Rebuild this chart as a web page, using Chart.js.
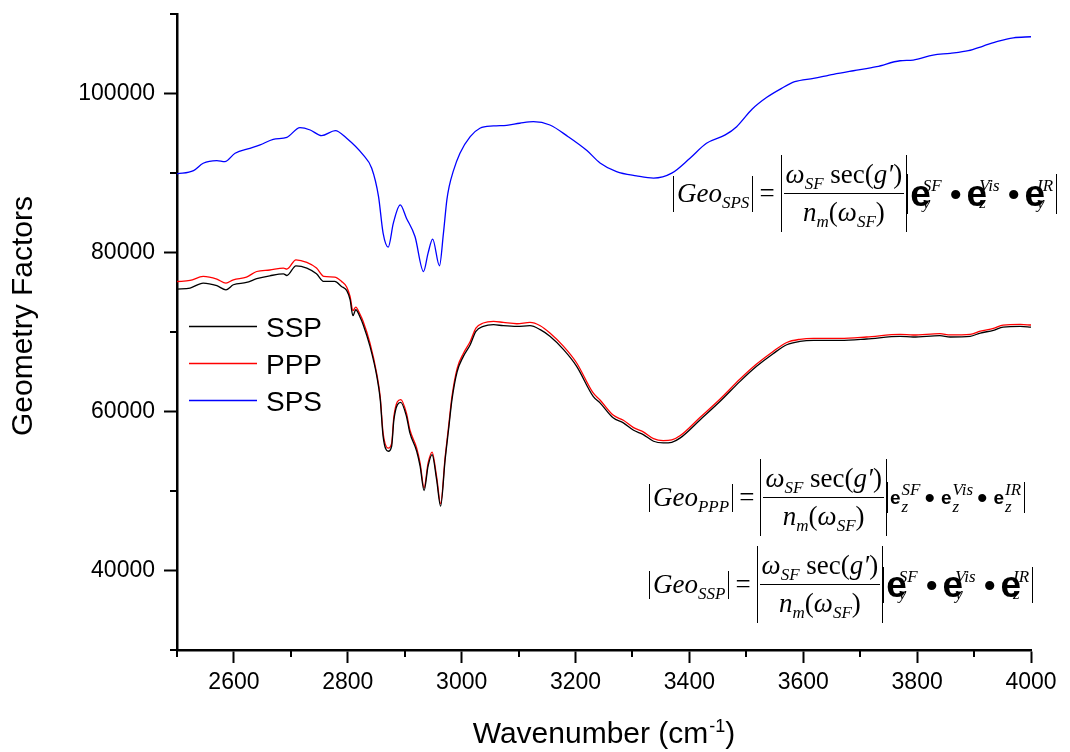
<!DOCTYPE html>
<html>
<head>
<meta charset="utf-8">
<script src="https://cdn.jsdelivr.net/npm/chart.js@4.4.1/dist/chart.umd.min.js"></script>
<style>
  html, body { margin: 0; padding: 0; background: #fff; }
  #wrap { position: relative; width: 1070px; height: 752px; overflow: hidden; }
  #c { position: absolute; left: 0; top: 0; }
  .eq { position: absolute; display: flex; align-items: center; font-family: "Liberation Serif", "Times New Roman", serif; font-size: 27px; line-height: 1; white-space: nowrap; color: #000; }
  .bars { display: inline-flex; align-items: center; justify-content: center; box-sizing: border-box; border-left: 1.4px solid #000; border-right: 1.4px solid #000; }
  .sm { height: 36px; padding: 0 3px; }
  .sm.short { height: 28px; }
  .bg { height: 77px; padding: 0 2px; }
  .eqs { margin: 0 6px; }
  .frac { display: flex; flex-direction: column; align-items: center; }
  .num { border-bottom: 1.4px solid #000; padding: 0 2px 5px; }
  .den { padding-top: 5px; }
  sub { font-size: 17px; vertical-align: -6px; line-height: 0; font-style: italic; }
  .vec { padding: 0 3px 0 2px; }
  .v { display: inline-flex; align-items: center; }
  .v b { font-family: "Liberation Sans", Arial, sans-serif; font-weight: bold; }
  .s { display: inline-flex; flex-direction: column; font-size: 17px; line-height: 1; font-style: italic; }
  .dot { font-family: "Liberation Sans", Arial, sans-serif; font-size: 34px; }
  .vbig .v b { font-size: 37px; }
  .vbig .s { margin-left: -8px; }
  .vbig .dot { margin: 0 5px 0 8px; }
  .vsmall .v b { font-size: 19px; }
  .vsmall .s { margin-left: 1px; }
  .vsmall .dot { font-size: 30px; margin: 0 6px 0 4px; }
</style>
</head>
<body>
<div id="wrap">
  <canvas id="c" width="1070" height="752"></canvas>

  <div class="eq" style="left:673px; top:155px;">
    <span class="bars sm"><span><i>Geo</i><sub>SPS</sub></span></span>
    <span class="eqs">=</span>
    <span class="bars bg"><span class="frac"><span class="num"><i>ω</i><sub>SF</sub> sec(<i>g′</i>)</span><span class="den"><i>n</i><sub>m</sub>(<i>ω</i><sub>SF</sub>)</span></span></span>
    <span class="bars sm vec vbig" style="height:40px;">
      <span class="v"><b>e</b><span class="s"><span>SF</span><span>y</span></span></span>
      <span class="dot">•</span>
      <span class="v"><b>e</b><span class="s"><span>Vis</span><span>z</span></span></span>
      <span class="dot">•</span>
      <span class="v"><b>e</b><span class="s"><span>IR</span><span>y</span></span></span>
    </span>
  </div>

  <div class="eq" style="left:649px; top:459px;">
    <span class="bars sm short"><span><i>Geo</i><sub>PPP</sub></span></span>
    <span class="eqs">=</span>
    <span class="bars bg"><span class="frac"><span class="num"><i>ω</i><sub>SF</sub> sec(<i>g′</i>)</span><span class="den"><i>n</i><sub>m</sub>(<i>ω</i><sub>SF</sub>)</span></span></span>
    <span class="bars sm vec vsmall" style="height:31px;">
      <span class="v"><b>e</b><span class="s"><span>SF</span><span>z</span></span></span>
      <span class="dot">•</span>
      <span class="v"><b>e</b><span class="s"><span>Vis</span><span>z</span></span></span>
      <span class="dot">•</span>
      <span class="v"><b>e</b><span class="s"><span>IR</span><span>z</span></span></span>
    </span>
  </div>

  <div class="eq" style="left:649px; top:546px;">
    <span class="bars sm short"><span><i>Geo</i><sub>SSP</sub></span></span>
    <span class="eqs">=</span>
    <span class="bars bg"><span class="frac"><span class="num"><i>ω</i><sub>SF</sub> sec(<i>g′</i>)</span><span class="den"><i>n</i><sub>m</sub>(<i>ω</i><sub>SF</sub>)</span></span></span>
    <span class="bars sm vec vbig" style="height:36px;">
      <span class="v"><b>e</b><span class="s"><span>SF</span><span>y</span></span></span>
      <span class="dot">•</span>
      <span class="v"><b>e</b><span class="s"><span>Vis</span><span>y</span></span></span>
      <span class="dot">•</span>
      <span class="v"><b>e</b><span class="s"><span>IR</span><span>z</span></span></span>
    </span>
  </div>
</div>

<script>
// Geometry factors vs. wavenumber for the three polarization combinations
const sspWavenumber = [2500, 2523, 2546, 2570, 2586, 2599, 2622, 2640, 2663, 2687, 2693, 2709, 2728, 2745, 2758, 2777, 2789, 2798, 2804, 2809, 2814, 2821, 2827, 2839, 2851, 2857, 2862, 2871, 2877, 2881, 2893, 2903, 2909, 2921, 2927, 2934, 2941, 2948, 2956, 2963, 2971, 2977, 2983, 2992, 3003, 3015, 3025, 3038, 3056, 3073, 3097, 3120, 3138, 3155, 3179, 3202, 3231, 3243, 3266, 3284, 3302, 3319, 3337, 3354, 3369, 3384, 3419, 3454, 3489, 3518, 3547, 3571, 3594, 3618, 3665, 3711, 3770, 3793, 3840, 3858, 3893, 3911, 3934, 3951, 3981, 4000];
const sspValues = [75400, 75530, 76150, 75820, 75310, 75940, 76230, 76700, 77070, 77320, 77110, 78330, 78040, 77320, 76360, 76360, 75730, 75230, 74060, 72050, 72800, 71960, 70920, 68190, 64420, 61500, 56880, 55000, 55630, 58980, 61150, 59400, 57310, 55000, 53120, 50060, 53120, 54580, 51440, 48090, 53960, 57730, 61500, 65000, 66930, 68400, 70080, 70700, 70920, 70790, 70700, 70790, 70290, 69450, 67780, 65680, 61910, 61080, 59200, 58570, 57640, 57100, 56260, 56050, 56130, 56680, 58970, 61280, 63790, 65680, 67270, 68400, 68820, 68950, 68950, 69120, 69450, 69370, 69540, 69370, 69450, 69870, 70200, 70620, 70700, 70620];

const pppWavenumber = sspWavenumber;
const pppValues = [76350, 76480, 76990, 76660, 76150, 76570, 76900, 77610, 77800, 78040, 77920, 79080, 78750, 78040, 76990, 76910, 76360, 75660, 74470, 72680, 73140, 72300, 71330, 68610, 64700, 61800, 57300, 55400, 56000, 59400, 61500, 59800, 57700, 55400, 53500, 50400, 53500, 54900, 51800, 48400, 54300, 58100, 61900, 65400, 67300, 68800, 70500, 71130, 71330, 71210, 71040, 71210, 70790, 69870, 68190, 66100, 62330, 61450, 59550, 58900, 57970, 57430, 56580, 56340, 56420, 56970, 59280, 61580, 64080, 65960, 67550, 68680, 69080, 69200, 69200, 69370, 69700, 69620, 69800, 69630, 69700, 70120, 70450, 70870, 70950, 70880];

const spsWavenumber = [2500, 2529, 2546, 2570, 2584, 2602, 2628, 2646, 2669, 2693, 2716, 2734, 2754, 2778, 2798, 2827, 2842, 2854, 2862, 2871, 2880, 2892, 2903, 2918, 2933, 2941, 2949, 2961, 2968, 2974, 2978, 2985, 2997, 3015, 3032, 3056, 3079, 3102, 3126, 3155, 3187, 3220, 3243, 3272, 3307, 3337, 3369, 3401, 3430, 3463, 3483, 3510, 3536, 3562, 3585, 3618, 3653, 3688, 3729, 3770, 3793, 3828, 3858, 3890, 3916, 3943, 3969, 4000];
const spsValues = [89890, 90300, 91230, 91560, 91430, 92490, 93110, 93530, 94240, 94490, 95700, 95410, 94700, 95330, 94370, 92270, 90600, 87040, 82440, 80680, 83690, 85990, 84320, 82010, 77610, 79920, 81680, 78330, 82440, 86620, 88290, 90180, 92490, 94570, 95630, 95920, 96000, 96260, 96460, 96040, 94570, 92820, 91270, 90180, 89640, 89350, 89980, 91860, 93740, 94790, 95830, 98020, 99520, 100650, 101480, 101910, 102410, 102860, 103370, 104120, 104210, 104840, 105050, 105380, 105970, 106600, 107010, 107140];

const seriesLabels = ['SSP', 'PPP', 'SPS'];
const seriesColors = ['#000000', '#ff0000', '#0000ff'];

const xMajorTicks = [2600, 2800, 3000, 3200, 3400, 3600, 3800, 4000];
const xMinorTicks = [2500, 2700, 2900, 3100, 3300, 3500, 3700, 3900];
const yMajorTicks = [40000, 60000, 80000, 100000];
const yMinorTicks = [30000, 50000, 70000, 90000, 110000];

const xTitle = { main: 'Wavenumber (cm', sup: '-1', tail: ')' };
const yTitle = 'Geometry Factors';

const SANS = '"Liberation Sans", Arial, sans-serif';

function pairs(xs, ys) { return xs.map((x, i) => ({ x: x, y: ys[i] })); }

function noEdgePadding(s) {
  s.paddingTop = 0; s.paddingBottom = 0; s.paddingLeft = 0; s.paddingRight = 0;
}

const minorTickPlugin = {
  id: 'minorTicks',
  afterDraw(chart) {
    const { ctx, chartArea: a } = chart;
    const xs = chart.scales.x, ys = chart.scales.y;
    ctx.save();
    ctx.strokeStyle = '#000';
    ctx.lineWidth = 2;
    ctx.beginPath();
    xMinorTicks.forEach(v => {
      const px = Math.round(xs.getPixelForValue(v));
      ctx.moveTo(px, a.bottom);
      ctx.lineTo(px, a.bottom + 7);
    });
    yMinorTicks.forEach(v => {
      const py = Math.round(ys.getPixelForValue(v));
      ctx.moveTo(a.left, py);
      ctx.lineTo(a.left - 7, py);
    });
    ctx.stroke();
    ctx.restore();
  }
};

const axisTitlePlugin = {
  id: 'axisTitles',
  afterDraw(chart) {
    const { ctx, chartArea: a } = chart;
    ctx.save();
    ctx.fillStyle = '#000';
    // y title, rotated
    ctx.font = '30px ' + SANS;
    ctx.textAlign = 'center';
    ctx.textBaseline = 'alphabetic';
    ctx.translate(32, 316);
    ctx.rotate(-Math.PI / 2);
    ctx.fillText(yTitle, 0, 0);
    ctx.setTransform(1, 0, 0, 1, 0, 0);
    // x title with superscript
    ctx.textAlign = 'left';
    ctx.font = '30px ' + SANS;
    const w1 = ctx.measureText(xTitle.main).width;
    const w3 = ctx.measureText(xTitle.tail).width;
    ctx.font = '18px ' + SANS;
    const w2 = ctx.measureText(xTitle.sup).width;
    const cx = (a.left + a.right) / 2;
    const x0 = cx - (w1 + w2 + w3 + 1) / 2;
    const base = 743;
    ctx.font = '30px ' + SANS;
    ctx.fillText(xTitle.main, x0, base);
    ctx.font = '18px ' + SANS;
    ctx.fillText(xTitle.sup, x0 + w1 + 1, base - 11);
    ctx.font = '30px ' + SANS;
    ctx.fillText(xTitle.tail, x0 + w1 + w2 + 1, base);
    ctx.restore();
  }
};

const legendPlugin = {
  id: 'inlineLegend',
  afterDraw(chart) {
    const { ctx } = chart;
    ctx.save();
    ctx.font = '28px ' + SANS;
    ctx.textBaseline = 'alphabetic';
    ctx.textAlign = 'left';
    chart.data.datasets.forEach((ds, i) => {
      const y = 326 + i * 37;
      ctx.strokeStyle = ds.borderColor;
      ctx.lineWidth = 1.3;
      ctx.beginPath();
      ctx.moveTo(189, y + 0.5);
      ctx.lineTo(257, y + 0.5);
      ctx.stroke();
      ctx.fillStyle = '#000';
      ctx.fillText(ds.label, 266, y + 10.5);
    });
    ctx.restore();
  }
};

const tickFont = { family: SANS, size: 23 };

new Chart(document.getElementById('c'), {
  type: 'line',
  data: {
    datasets: [
      { label: seriesLabels[0], data: pairs(sspWavenumber, sspValues), borderColor: seriesColors[0] },
      { label: seriesLabels[1], data: pairs(pppWavenumber, pppValues), borderColor: seriesColors[1] },
      { label: seriesLabels[2], data: pairs(spsWavenumber, spsValues), borderColor: seriesColors[2] }
    ].map(d => Object.assign(d, { borderWidth: 1.3, pointRadius: 0, fill: false, cubicInterpolationMode: 'monotone' }))
  },
  options: {
    responsive: false,
    animation: false,
    events: [],
    layout: { padding: { top: 14, right: 39, left: 0, bottom: 0 } },
    plugins: { legend: { display: false }, tooltip: { enabled: false }, title: { display: false } },
    scales: {
      x: {
        type: 'linear', min: 2500, max: 4000,
        afterBuildTicks: s => { s.ticks = xMajorTicks.map(v => ({ value: v })); },
        afterFit: s => { s.height = 102; noEdgePadding(s); },
        ticks: { font: tickFont, color: '#000', padding: 6, maxRotation: 0, autoSkip: false, callback: v => String(v) },
        grid: { drawOnChartArea: false, drawTicks: true, tickLength: 13, tickWidth: 2, tickColor: '#000' },
        border: { display: true, color: '#000', width: 2.5 }
      },
      y: {
        type: 'linear', min: 30000, max: 110000,
        afterBuildTicks: s => { s.ticks = yMajorTicks.map(v => ({ value: v })); },
        afterFit: s => { s.width = 177; noEdgePadding(s); },
        ticks: { font: tickFont, color: '#000', padding: 9, autoSkip: false, callback: v => String(v) },
        grid: { drawOnChartArea: false, drawTicks: true, tickLength: 13, tickWidth: 2, tickColor: '#000' },
        border: { display: true, color: '#000', width: 2.5 }
      }
    }
  },
  plugins: [minorTickPlugin, axisTitlePlugin, legendPlugin]
});
</script>
</body>
</html>
